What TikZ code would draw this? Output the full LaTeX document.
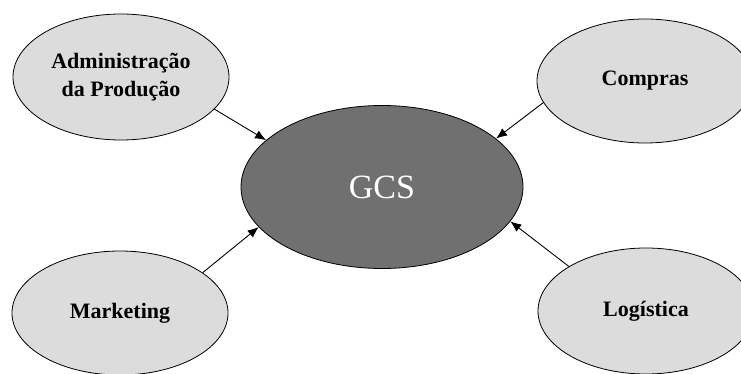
\documentclass[tikz,border=0pt]{standalone}
\usepackage{fontspec}
\setmainfont{Liberation Serif}
\usetikzlibrary{shapes.geometric,arrows.meta}
\definecolor{outerfill}{RGB}{220,220,220}
\definecolor{centerfill}{RGB}{112,112,112}
\tikzset{
  outer/.style={ellipse, draw=black, line width=0.8pt, fill=outerfill, minimum width=216pt, minimum height=126pt, inner sep=0pt, align=center, font=\fontsize{22}{28}\selectfont\bfseries},
  central/.style={ellipse, draw=black, line width=0.8pt, fill=centerfill, minimum width=282pt, minimum height=163pt, inner sep=0pt, text=white, font=\fontsize{34}{38}\selectfont},
  conn/.style={-{Latex[length=11pt,width=9pt]}, line width=0.9pt}
}
\begin{document}
\begin{tikzpicture}[x=1pt,y=-1pt]
\useasboundingbox (0,0) rectangle (741,374);
\node[central] (gcs) at (382,187) {GCS};
\node[outer] (adm) at (121,77) {Administração\\da Produção};
\node[outer, minimum height=124pt] (comp) at (645,81) {Compras};
\node[outer, minimum height=124pt] (mkt) at (120,313) {Marketing};
\node[outer, minimum height=126pt] (log) at (646,311) {Logística};
\draw[conn] (adm.-19) -- (gcs.158);
\draw[conn] (comp.-168) -- (gcs.23);
\draw[conn] (mkt.26) -- (gcs.-162);
\draw[conn] (log.150) -- (gcs.-15);
\end{tikzpicture}
\end{document}
